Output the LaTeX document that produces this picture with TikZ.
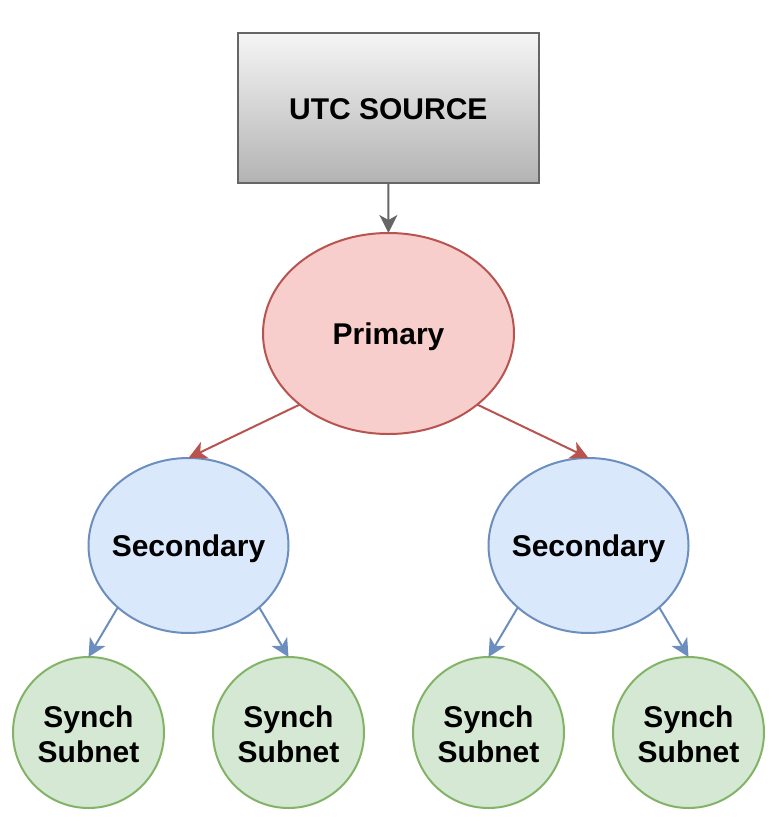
\documentclass[tikz,border=0pt]{standalone}
\usepackage{fontspec}
\setmainfont{Liberation Sans}
\usetikzlibrary{arrows.meta,shapes.geometric}
\definecolor{grayline}{HTML}{666666}
\definecolor{graytop}{HTML}{F5F5F5}
\definecolor{graybot}{HTML}{B3B3B3}
\definecolor{redfill}{HTML}{F8CECC}
\definecolor{redline}{HTML}{B85450}
\definecolor{bluefill}{HTML}{DAE8FC}
\definecolor{blueline}{HTML}{6C8EBF}
\definecolor{greenfill}{HTML}{D5E8D4}
\definecolor{greenline}{HTML}{82B366}
\tikzset{
  lbl/.style={font=\bfseries\fontsize{30}{34.5}\selectfont, align=center, inner sep=0pt},
  srcbox/.style={draw=grayline, line width=2pt, top color=graytop, bottom color=graybot,
    minimum width=301.5pt, minimum height=150pt, inner sep=0pt, outer sep=0pt},
  primnode/.style={ellipse, draw=redline, fill=redfill, line width=2pt,
    minimum width=251pt, minimum height=201pt, inner sep=0pt, outer sep=0pt},
  secnode/.style={ellipse, draw=blueline, fill=bluefill, line width=2pt,
    minimum width=200pt, minimum height=175pt, inner sep=0pt, outer sep=0pt},
  subnode/.style={circle, draw=greenline, fill=greenfill, line width=2pt,
    minimum size=151pt, inner sep=0pt, outer sep=0pt},
  arr/.style={line width=2pt, -{Stealth[length=18pt, width=18pt, inset=5pt]}},
}
\begin{document}
\begin{tikzpicture}[x=1pt,y=-1pt]
\useasboundingbox (0,0) rectangle (774,821);
\node[srcbox, label={[lbl, yshift=-1pt]center:UTC SOURCE}] (utc) at (388.3,108.3) {};
\node[primnode, label={[lbl, yshift=-3pt]center:Primary}] (p) at (388.5,333.5) {};
\node[secnode, label={[lbl, yshift=-3pt]center:Secondary}] (s1) at (188.5,545.5) {};
\node[secnode, label={[lbl, yshift=-3pt]center:Secondary}] (s2) at (588.5,545.5) {};
\node[subnode, label={[lbl, yshift=-2pt]center:Synch\\Subnet}] (c1) at (88.5,732.5) {};
\node[subnode, label={[lbl, yshift=-2pt]center:Synch\\Subnet}] (c2) at (288.5,732.5) {};
\node[subnode, label={[lbl, yshift=-2pt]center:Synch\\Subnet}] (c3) at (488.5,732.5) {};
\node[subnode, label={[lbl, yshift=-2pt]center:Synch\\Subnet}] (c4) at (688.5,732.5) {};
\draw[arr, draw=grayline, fill=grayline] (utc.south) -- (p.north);
\draw[arr, draw=redline, fill=redline] (p.south west) -- (s1.north);
\draw[arr, draw=redline, fill=redline] (p.south east) -- (s2.north);
\draw[arr, draw=blueline, fill=blueline] (s1.south west) -- (c1.north);
\draw[arr, draw=blueline, fill=blueline] (s1.south east) -- (c2.north);
\draw[arr, draw=blueline, fill=blueline] (s2.south west) -- (c3.north);
\draw[arr, draw=blueline, fill=blueline] (s2.south east) -- (c4.north);
\end{tikzpicture}
\end{document}
